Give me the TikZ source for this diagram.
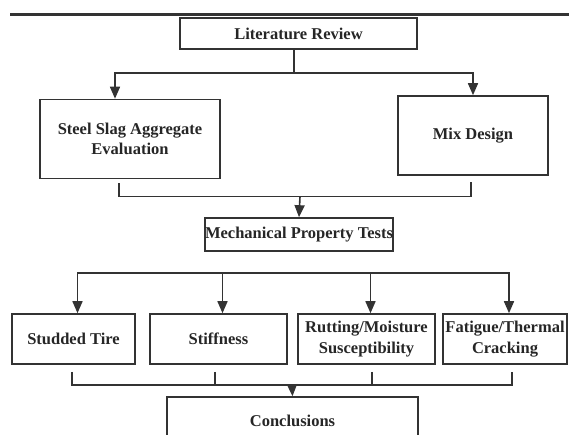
\documentclass[tikz,border=0pt]{standalone}
\usepackage{fontspec}
\setmainfont{Liberation Serif}
\usetikzlibrary{arrows.meta}

\begin{document}
\begin{tikzpicture}[x=1pt, y=-1pt,
            every node/.style = {shape=rectangle, draw=black!80,
                                 line width=1.6pt, align=center,
                                 inner sep=0pt, text=black!85,
                                 font=\bfseries\fontsize{16.5}{20.5}\selectfont},
            arr/.style = {-{Triangle[length=12pt,width=10pt]}},
            gap/.style = {shorten <=#1}]
        \clip (0,0) rectangle (569,435);
        \draw[black!80, line width=3pt] (10,15) -- (569,15);
        \begin{scope}[line width=1.6pt, draw=black!80]
            \node[minimum width=237pt, minimum height=31pt] (lit) at (298.5,33.5) {Literature Review};
            \node[minimum width=180pt, minimum height=79pt] (steel) at (130,139) {Steel Slag Aggregate\\Evaluation};
            \node[minimum width=150pt, minimum height=79pt] (mix) at (473,135.5) {Mix Design};
            \node[minimum width=188pt, minimum height=33pt] (mech) at (299,234.5) {Mechanical Property Tests};
            \node[minimum width=123pt, minimum height=50pt] (tire) at (73.5,339) {Studded Tire};
            \node[minimum width=137pt, minimum height=50pt] (stiff) at (218.5,339) {Stiffness};
            \node[minimum width=137pt, minimum height=50pt] (rut) at (366.5,339) {Rutting/Moisture\\Susceptibility};
            \node[minimum width=124pt, minimum height=50pt] (fat) at (505,339) {Fatigue/Thermal\\Cracking};
            \node[minimum width=251pt, minimum height=48pt] (concl) at (292.5,421) {Conclusions};

            \coordinate (j1) at (294,73);
            \draw (lit.south -| j1) -- (j1);
            \draw[arr] (j1) -| ([xshift=-15pt]steel.north);
            \draw[arr] (j1) -| (mix.north);

            \coordinate (j2) at (300,196.5);
            \draw[gap=4pt, shorten >=6pt] ([xshift=-11pt]steel.south) |- (j2) -| ([xshift=-2pt]mix.south);
            \draw[arr] (j2) -- (mech.north);

            \coordinate (j3) at (290,273);
            \draw[arr] (j3) -| ([xshift=4pt]tire.north);
            \draw[arr] (j3) -| ([xshift=4pt]fat.north);
            \foreach \n in {stiff,rut}
                \draw[arr] ([xshift=4pt]\n.north |- j3) -- ([xshift=4pt]\n.north);

            \coordinate (j4) at (292,385);
            \draw[gap=7pt, shorten >=7pt] ([xshift=-1.5pt]tire.south) |- (j4) -| ([xshift=7pt]fat.south);
            \draw[gap=7pt] ([xshift=-3.5pt]stiff.south) -- ([xshift=-3.5pt]stiff.south |- j4);
            \draw[gap=7pt] ([xshift=5.5pt]rut.south) -- ([xshift=5.5pt]rut.south |- j4);
            \draw[arr] (j4) -- (concl.north);
        \end{scope}
\end{tikzpicture}
\end{document}
